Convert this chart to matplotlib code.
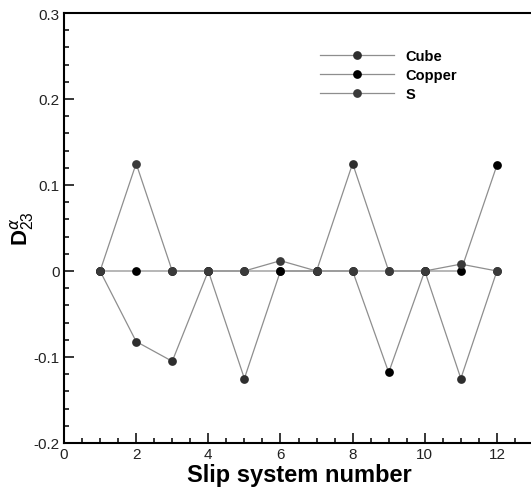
import matplotlib
matplotlib.use('Agg')
import matplotlib.pyplot as plt
from matplotlib.ticker import MultipleLocator

plt.rcParams['font.family'] = ['Liberation Sans', 'DejaVu Sans']
plt.rcParams['mathtext.fontset'] = 'custom'
plt.rcParams['mathtext.rm'] = 'Liberation Sans'
plt.rcParams['mathtext.bf'] = 'Liberation Sans:bold'

# slip systems 1..12
slip = [1, 2, 3, 4, 5, 6, 7, 8, 9, 10, 11, 12]
cube = [0, -0.082, -0.105, 0, -0.125, 0, 0, 0.125, 0, 0, -0.125, 0]
copper = [0, 0, 0, 0, 0, 0, 0, 0, -0.118, 0, 0, 0.123]
s_comp = [0, 0.125, 0, 0, 0, 0.012, 0, 0, 0, 0, 0.008, 0]

yticks = [-0.2, -0.1, 0, 0.1, 0.2, 0.3]
ytick_labels = ['-0.2', '-0.1', '0', '0.1', '0.2', '0.3']
xticks = [0, 2, 4, 6, 8, 10, 12]

fig = plt.figure(figsize=(5.31, 4.89), dpi=100)
ax = fig.add_axes([64/531, 45/489, 469/531, 430/489])

line_kw = dict(color='#8e8e8e', linewidth=0.9, marker='o', markersize=6.3,
               markeredgewidth=0)
ax.plot(slip, cube, markerfacecolor='#2e2e2e', label='Cube', **line_kw)
ax.plot(slip, copper, markerfacecolor='#000000', label='Copper', **line_kw)
ax.plot(slip, s_comp, markerfacecolor='#3a3a3a', label='S', **line_kw)

ax.set_xlim(0, 13)
ax.set_ylim(-0.2, 0.3)
ax.set_xticks(xticks)
ax.set_xticklabels([str(v) for v in xticks])
ax.set_yticks(yticks)
ax.set_yticklabels(ytick_labels)
ax.xaxis.set_minor_locator(MultipleLocator(0.5))
ax.yaxis.set_minor_locator(MultipleLocator(0.02))
ax.tick_params(which='both', direction='in', top=False, right=False,
               width=1.1, labelsize=11, labelcolor='#222222', pad=3)
ax.tick_params(which='major', length=7)
ax.tick_params(which='minor', length=3.5)
for sp in ax.spines.values():
    sp.set_linewidth(1.5)

ax.set_xlabel('Slip system number', fontsize=17, fontweight='bold')
ax.xaxis.set_label_coords(0.502, -0.047)
ax.set_ylabel(r'$\mathbf{D}_{23}^{\alpha}$', fontsize=16)
ax.yaxis.set_label_coords(-0.06, 0.5)

ax.legend(loc='upper left', bbox_to_anchor=(320/531, 1 - 50/489),
          bbox_transform=fig.transFigure, frameon=False,
          prop={'weight': 'bold', 'size': 10.5}, handlelength=5.1,
          handletextpad=0.75, labelspacing=0.33, borderpad=0, borderaxespad=0)

fig.savefig('out.png', dpi=100)
